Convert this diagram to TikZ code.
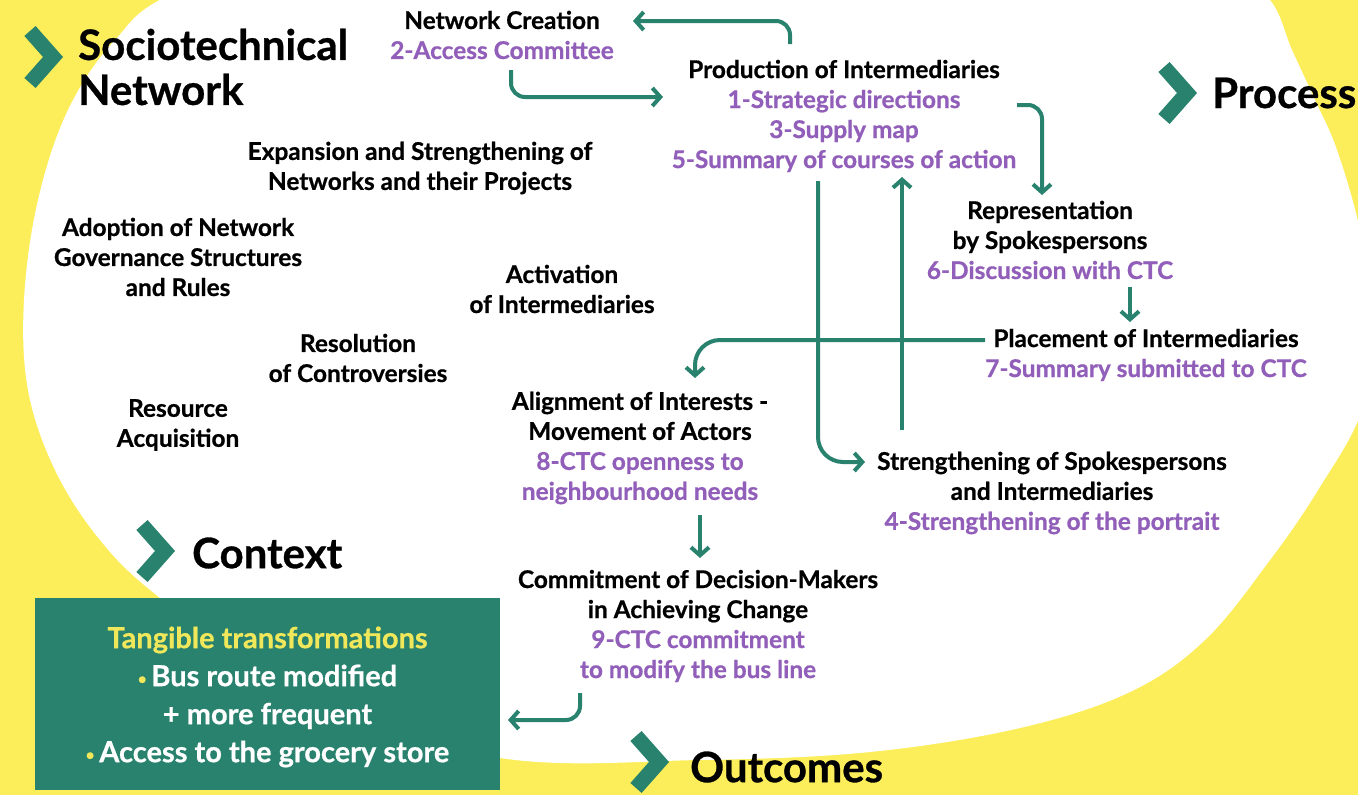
\documentclass[tikz,border=0pt]{standalone}
\usepackage{fontspec}
\setmainfont{Lato}[BoldFeatures={FakeBold=0.7}]
\usetikzlibrary{arrows.meta,calc}
\definecolor{teal2}{RGB}{40,130,110}
\definecolor{bgyel}{RGB}{252,238,90}
\definecolor{purp}{RGB}{145,95,185}
\definecolor{boxyel}{RGB}{240,232,90}
\newcommand\ptxt[1]{{\color{purp}#1}}
\newcommand\bul{{\color{boxyel}\raisebox{2pt}{\fontsize{15}{15}\selectfont\textbullet}}\,}
\begin{document}
\begin{tikzpicture}[x=1pt,y=-1pt,
  lbl/.style={font=\bfseries\fontsize{24.4}{30}\selectfont, align=center, inner sep=2pt, text=black},
  head/.style={font=\bfseries\fontsize{42}{45}\selectfont, align=left, inner sep=0pt, anchor=west},
  arr/.style={draw=teal2, line width=4pt, -{Straight Barb[length=8pt,width=18pt]}},
  chev/.pic={\draw[teal2, line width=15pt, line join=miter] (-11,-26) -- (12,0) -- (-11,26);},
  boxstyle/.style={fill=teal2, minimum width=465pt, minimum height=192pt, inner sep=0pt}
]
\useasboundingbox (0,0) rectangle (1358,795);
\fill[bgyel] (0,0) rectangle (1358,795);
\fill[white] plot[smooth cycle, tension=0.6] coordinates {
 (180,-10) (400,-90) (700,-120) (1000,-100) (1220,-40) (1270,0) (1292,50) (1315,100) (1337,150)
 (1360,230) (1374,320) (1362,410) (1318,490) (1270,560) (1205,640) (1130,692) (1020,728)
 (870,752) (700,760) (500,758) (300,700) (160,598) (100,540) (55,470) (28,390) (24,300)
 (38,200) (68,110) (115,40)};

% headings
\pic at (41,57) {chev};
\node[head] (hsoc) at (78,67) {Sociotechnical\\Network};
\pic at (1175,93) {chev};
\node[head] (hproc) at (1212,93) {Process};
\pic at (153,551) {chev};
\node[head] (hctx) at (192,553) {Context};
\pic at (647,762) {chev};
\node[head] (hout) at (690,767) {Outcomes};

% labels
\node[lbl] (netc) at (502,35) {Network Creation\\\ptxt{2-Access Committee}};
\node[lbl] (prod) at (844,116) {Production of Intermediaries\\\ptxt{1-Strategic directions}\\\ptxt{3-Supply map}\\\ptxt{5-Summary of courses of action}};
\node[lbl] (expa) at (420,168) {Expansion and Strengthening of\\Networks and their Projects};
\node[lbl] (adop) at (178,257) {Adoption of Network\\Governance Structures\\and Rules};
\node[lbl] (acti) at (562,289) {Activation\\of Intermediaries};
\node[lbl] (reso) at (358,358) {Resolution\\of Controversies};
\node[lbl] (reac) at (178,425) {Resource\\Acquisition};
\node[lbl] (repr) at (1050,240) {Representation\\by Spokespersons\\\ptxt{6-Discussion with CTC}};
\node[lbl] (plac) at (1146,355) {Placement of Intermediaries\\\ptxt{7-Summary submitted to CTC}};
\node[lbl] (alig) at (640,448) {Alignment of Interests -\\Movement of Actors\\\ptxt{8-CTC openness to}\\\ptxt{neighbourhood needs}};
\node[lbl] (stre) at (1052,493) {Strengthening of Spokespersons\\and Intermediaries\\\ptxt{4-Strengthening of the portrait}};
\node[lbl] (comm) at (698,626) {Commitment of Decision-Makers\\in Achieving Change\\\ptxt{9-CTC commitment}\\\ptxt{to modify the bus line}};

\node[boxstyle] (box) at (267.5,694) {};
\node[font=\bfseries\fontsize{29}{38}\selectfont, align=center, text=white, inner sep=0pt] (boxtxt) at (267.5,697) {{\color{boxyel}Tangible transformations}\\\bul Bus route modified\\+ more frequent\\\bul Access to the grocery store};

% connectors
\draw[arr, rounded corners=14pt] ($(prod.center)+(-54,-72)$) |- ($(netc.center)+(131,-14)$);
\draw[arr, rounded corners=14pt] ($(netc.center)+(9,35)$) |- ($(prod.center)+(-181,-19)$);
\draw[arr, rounded corners=14pt] ($(prod.center)+(173,-11)$) -| ($(repr.center)+(-8,-45)$);
\draw[arr] ($(repr.center)+(80,47)$) -- ($(plac.center)+(-16,-33)$);
\draw[arr, rounded corners=25pt] ($(plac.center)+(-161,-15)$) -| ($(alig.center)+(55,-70)$);
\draw[arr, rounded corners=25pt] ($(prod.center)+(-26,65)$) |- ($(stre.center)+(-187,-31)$);
\draw[arr] ($(stre.center)+(-150,-63)$) -- ($(prod.center)+(58,61)$);
\draw[arr] ($(alig.center)+(60,67)$) -- ($(comm.center)+(2,-68)$);
\draw[arr, rounded corners=14pt] ($(comm.center)+(-118,67)$) |- ($(box.center)+(240.5,26)$);
\end{tikzpicture}
\end{document}
